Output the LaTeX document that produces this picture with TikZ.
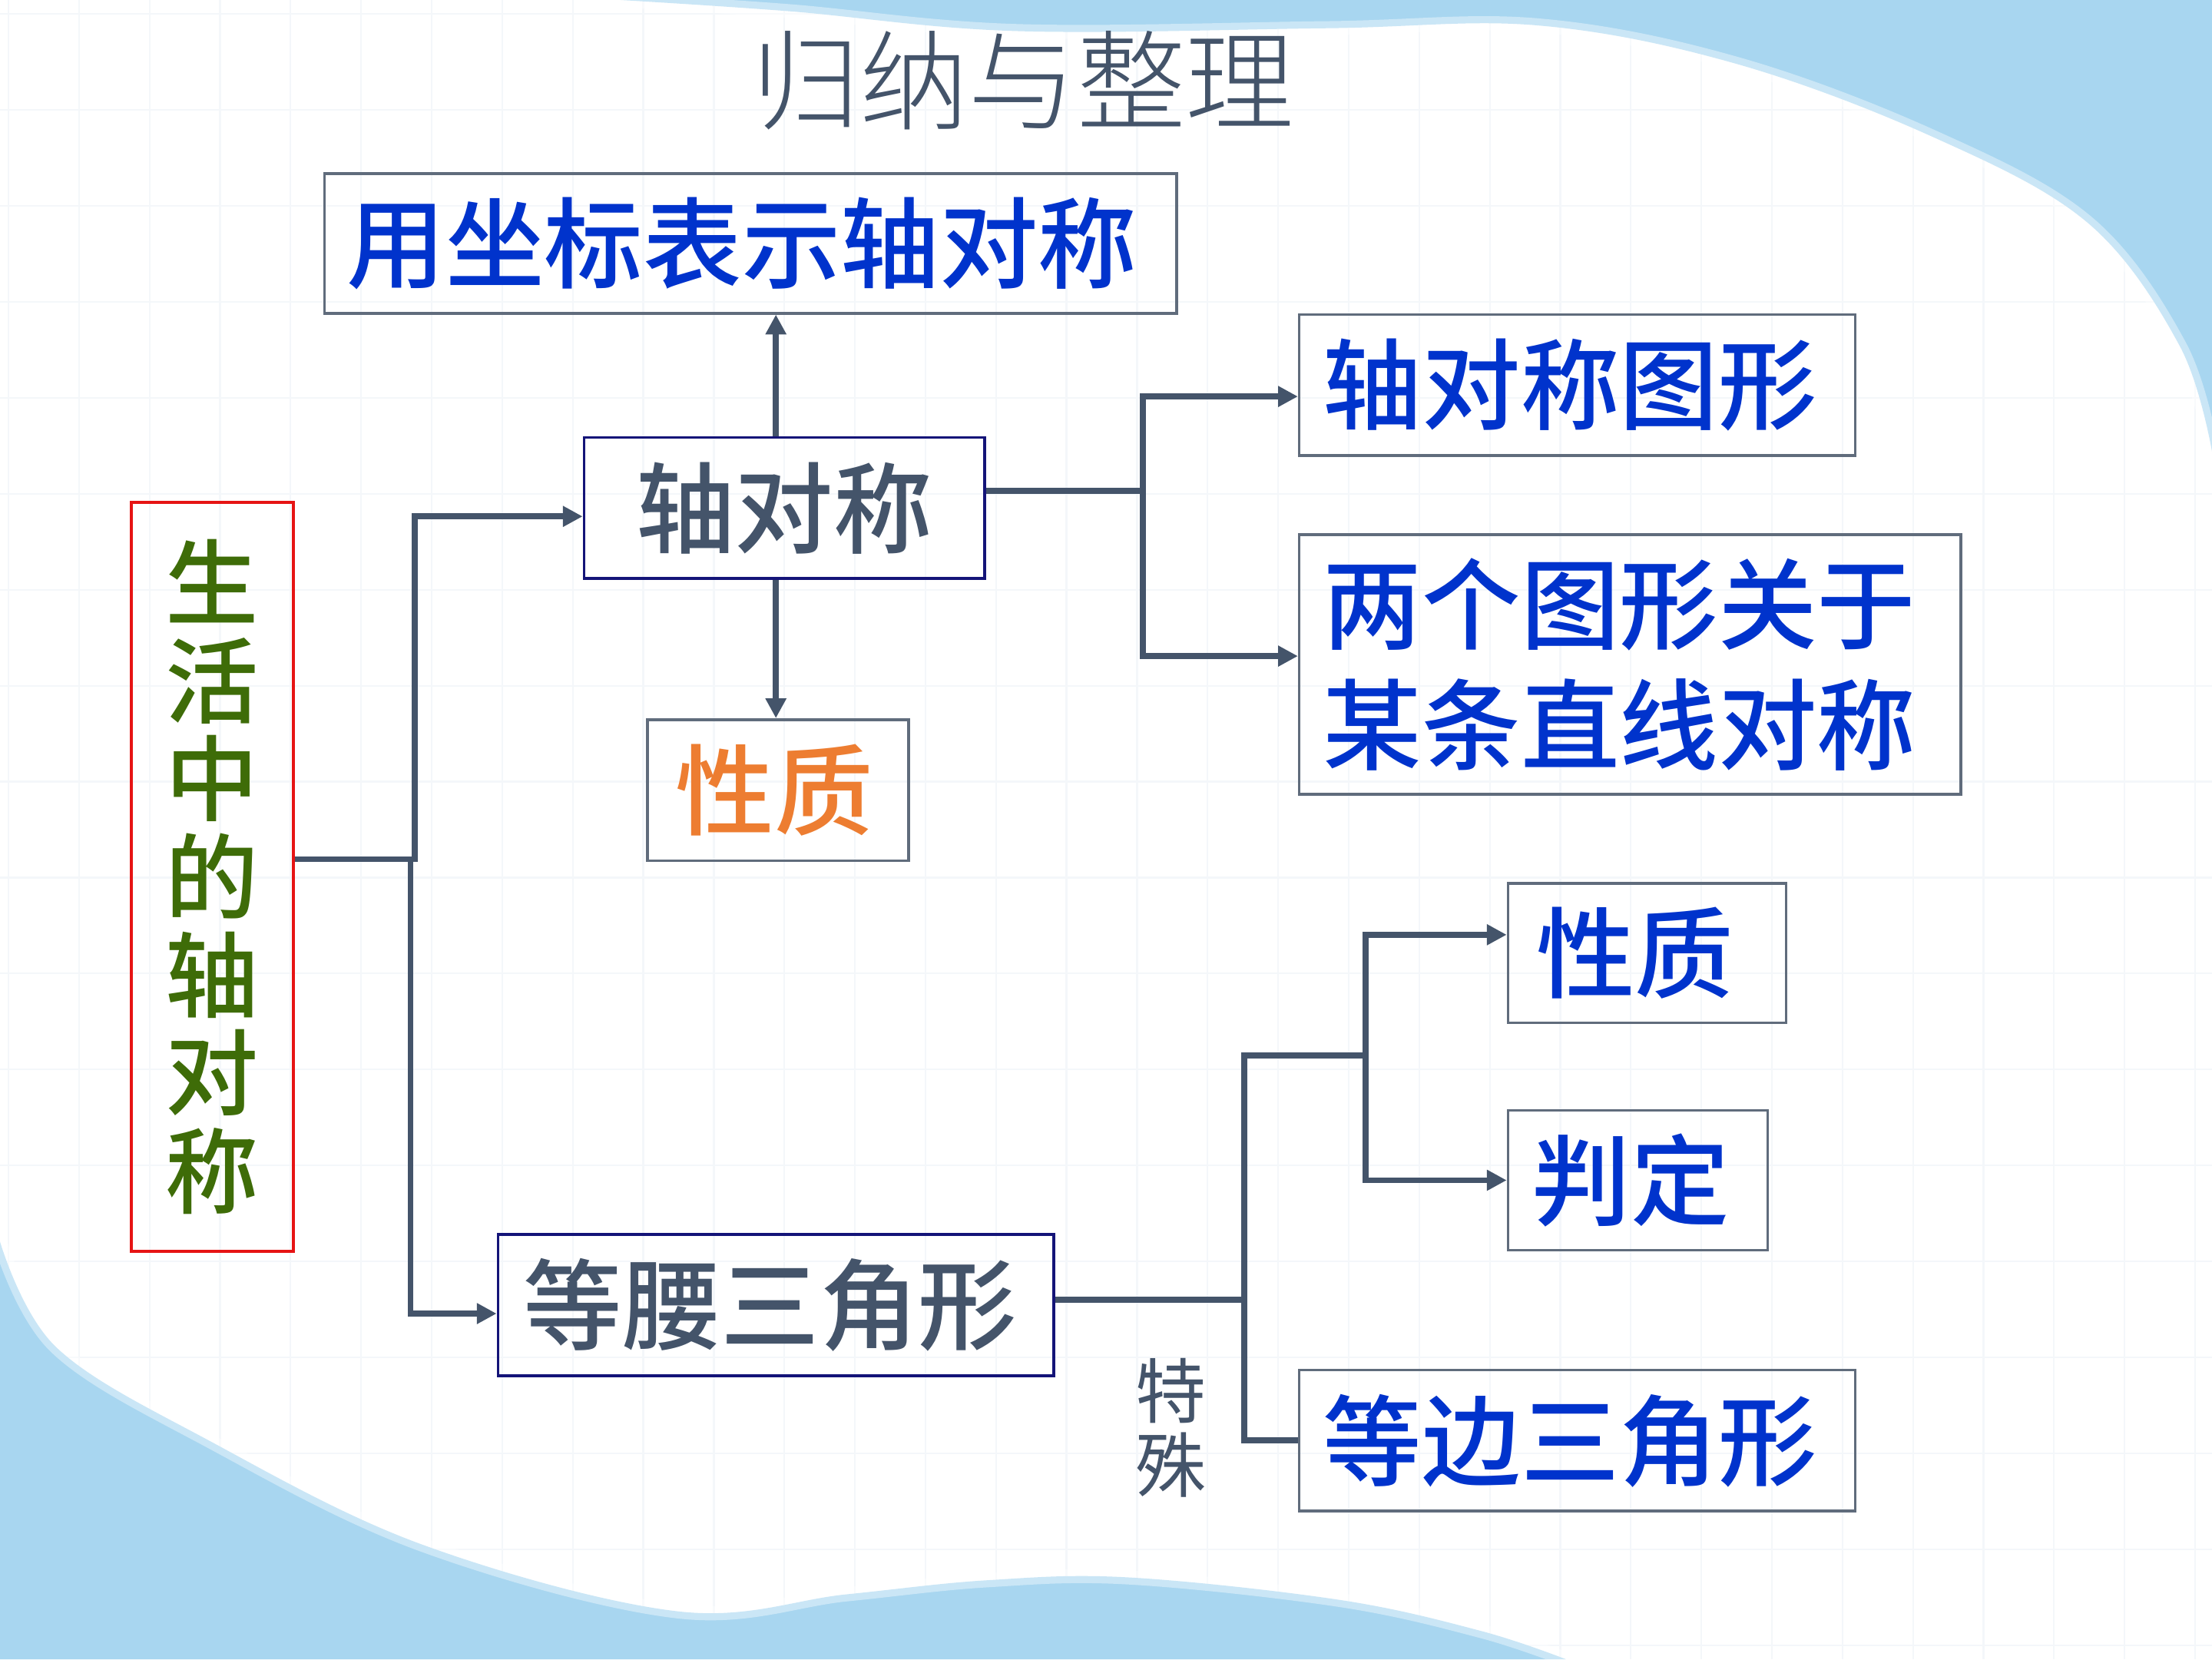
\documentclass[tikz,border=0pt]{standalone}
\usepackage{fontspec}
\newfontfamily\cjk{Noto Sans CJK SC}
\newfontfamily\cjkmed[UprightFont=* Medium]{Noto Sans CJK SC}
\newfontfamily\cjklight[UprightFont=* Light]{Noto Sans CJK SC}
\usetikzlibrary{arrows.meta}
\definecolor{slate}{RGB}{68,84,106}
\definecolor{txtblue}{RGB}{0,51,204}
\definecolor{txtorange}{RGB}{237,125,49}
\definecolor{txtgreen}{RGB}{62,108,8}
\definecolor{boxred}{RGB}{230,20,20}
\definecolor{boxnavy}{RGB}{20,20,120}
\definecolor{boxgray}{RGB}{96,108,124}
\definecolor{bgblue}{RGB}{168,214,240}
\definecolor{gridc}{RGB}{244,247,250}
\begin{document}
\begin{tikzpicture}[x=1pt,y=-1pt,
  bx/.style={draw=boxgray, line width=2pt, rectangle, inner xsep=17pt, inner ysep=0pt,
             align=left, anchor=north west, minimum height=100pt},
  navybx/.style={bx, draw=boxnavy},
  bluetxt/.style={text=txtblue, font={\cjkmed\fontsize{70}{85}\selectfont}},
  slatetxt/.style={text=slate, font={\cjkmed\fontsize{70}{85}\selectfont}},
  conn/.style={draw=slate, line width=4.2pt, line join=miter},
  arr/.style={-{Triangle[length=14pt,width=14pt]}}]
% background
\useasboundingbox (0,0) rectangle (1568,1176);
\fill[white] (0,0) rectangle (1568,1176);
\foreach \gx in {6,56,...,1568} \draw[gridc, line width=1.2pt] (\gx,0) -- (\gx,1176);
\foreach \gy in {10,78,...,1176} \draw[gridc, line width=1.2pt] (0,\gy) -- (1568,\gy);
\fill[bgblue] (440,0) -- (1568,0) -- (1568,320)
  -- plot[smooth, tension=0.6] coordinates {(1568,320) (1545,245) (1480,158) (1370,97) (1230,45) (1090,18) (940,20) (720,22) (560,8) (440,0)} -- cycle;
\draw[white, opacity=0.4, line width=10pt]
  plot[smooth, tension=0.6] coordinates {(1568,320) (1545,245) (1480,158) (1370,97) (1230,45) (1090,18) (940,20) (720,22) (560,8) (440,0)};
\fill[bgblue] (0,880)
  -- plot[smooth, tension=0.6] coordinates {(0,880) (40,955) (150,1022) (300,1095) (480,1142) (600,1130) (700,1120) (800,1118) (950,1134) (1050,1156) (1110,1176)}
  -- (0,1176) -- cycle;
\draw[white, opacity=0.4, line width=10pt]
  plot[smooth, tension=0.6] coordinates {(0,880) (40,955) (150,1022) (300,1095) (480,1142) (600,1130) (700,1120) (800,1118) (950,1134) (1050,1156) (1110,1176)};

% title
\node[text=slate, font={\cjklight\fontsize{77}{80}\selectfont}] (title) at (725,57) {归纳与整理};

% nodes
\node[bx, bluetxt, text width=572pt, inner xsep=16pt, minimum height=99pt] (zb) at (229,122) {用坐标表示轴对称};
\node[navybx, slatetxt, text width=250pt, align=center] (zdc) at (413,309) {轴对称};
\node[bx, text=txtorange, font={\cjkmed\fontsize{70}{85}\selectfont}, text width=145pt, inner xsep=20pt] (xz1) at (458,509) {性质};
\node[bx, bluetxt, text width=360pt] (dcx) at (920,222) {轴对称图形};
\node[bx, bluetxt, text width=435pt, minimum height=184pt] (lgtx) at (920,378) {两个图形关于\\某条直线对称};
\node[bx, draw=boxred, text=txtgreen, font={\cjkmed\fontsize{66}{69.5}\selectfont}, text width=81pt, align=center, minimum height=531pt] (root) at (92,355) {生\\活\\中\\的\\轴\\对\\称};
\node[bx, bluetxt, text width=157pt, inner xsep=20pt, minimum height=99pt] (xz2) at (1068,625) {性质};
\node[bx, bluetxt, text width=150pt, minimum height=99pt] (pd) at (1068,786) {判定};
\node[navybx, slatetxt, text width=358pt, inner xsep=18pt] (dy) at (352,874) {等腰三角形};
\node[bx, bluetxt, text width=360pt] (db) at (920,970) {等边三角形};
\node[text=slate, font={\cjk\fontsize{50}{52}\selectfont}, align=center, inner sep=0pt] (ts) at (830,1012) {特\\殊};

% connectors
\coordinate (r1) at (294,609);
\coordinate (r2) at (291,609);
\draw[conn, arr] (root.east |- r1) -- (r1) |- ([yshift=-6pt]zdc.west);
\draw[conn, arr] (root.east |- r2) -- (r2) |- ([yshift=-6pt]dy.west);
\draw[conn, arr] ([xshift=-6pt]zdc.north) -- ([xshift=-6pt]zdc.north |- zb.south);
\draw[conn, arr] ([xshift=-6pt]zdc.south) -- ([xshift=-6pt]zdc.south |- xz1.north);
\coordinate (k1) at (810,348);
\draw[conn, arr] (zdc.east |- k1) -- (k1) |- ([yshift=-8pt]dcx.west);
\draw[conn, arr] (k1) |- ([yshift=6pt]lgtx.west);
\coordinate (j1) at (882,921);
\coordinate (j2) at (968,748);
\draw[conn] (dy.east |- j1) -- (j1) |- (db.west);
\draw[conn] (j1) |- (j2);
\draw[conn, arr] (j2) |- ([yshift=13pt]xz2.west);
\draw[conn, arr] (j2) |- (pd.west);
\end{tikzpicture}
\end{document}
